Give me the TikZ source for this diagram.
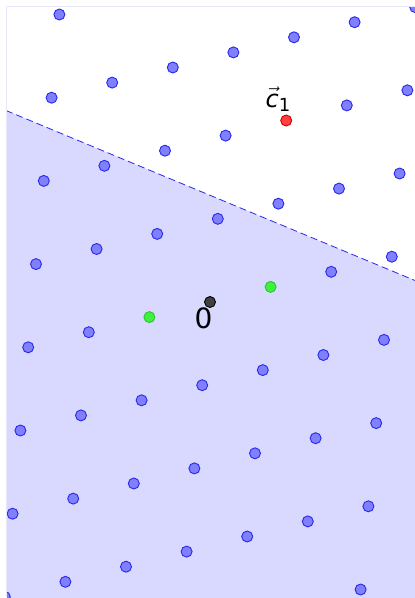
\documentclass[tikz,border=0pt]{standalone}
\usepackage{fontspec}
\setmainfont{DejaVu Sans}
\definecolor{ptfill}{RGB}{128,128,255}
\definecolor{ptdraw}{RGB}{40,40,235}
\definecolor{halfplane}{RGB}{217,217,255}
\definecolor{framecol}{RGB}{232,232,252}
\definecolor{redfill}{RGB}{255,64,64}
\definecolor{reddraw}{RGB}{210,0,0}
\definecolor{greenfill}{RGB}{64,240,64}
\definecolor{greendraw}{RGB}{40,200,40}
\tikzset{
  bluept/.style={circle,inner sep=0pt,minimum size=11pt,fill=ptfill,draw=ptdraw,line width=0.9pt},
  redpt/.style={bluept,fill=redfill,draw=reddraw},
  greenpt/.style={bluept,fill=greenfill,draw=greendraw},
  originpt/.style={bluept,fill=black!75,draw=black},
  bisector/.style={draw=ptdraw,line width=0.8pt,dash pattern=on 7pt off 4pt},
  lbl/.style={inner sep=0pt,text=black}
}
\begin{document}
\begin{tikzpicture}[x=1pt,y=-1pt]
\useasboundingbox (0,0) rectangle (415,598);
\fill[white] (0,0) rectangle (415,598);
\coordinate (L) at (6,110.5);
\coordinate (R) at (415,280.5);
\begin{scope}
\clip (6,6) rectangle (415,598);
\fill[halfplane] (L) -- (R) -- (415,598) -- (6,598) -- cycle;
\draw[bisector] (L) -- (R);
\foreach \i in {-6,...,6}{
  \foreach \j in {-5,...,5}{
    \pgfmathtruncatemacro\skipit{((\j==0) && (abs(\i)<=1)) || ((\i==1) && (\j==2))}
    \ifnum\skipit=0
      \node[bluept] (p\i\j) at ({210+\i*60.6+\j*7.8},{302-\i*15.1-\j*83.2}) {};
    \fi
  }
}
\node[originpt] (O) at (210,302) {};
\node[greenpt] (a) at (270.6,286.9) {};
\node[greenpt] (ma) at (149.4,317.1) {};
\node[redpt] (c) at (286.2,120.5) {};
\end{scope}
\draw[framecol,line width=0.8pt] (6,598) -- (6,6) -- (415,6);
\node[lbl,font=\fontsize{28}{30}\selectfont] (l0) at (203.5,318.5) {0};
\node[lbl,font=\fontsize{24}{26}\selectfont] (lc) at (278,99) {$\vec{\hbox{\itshape c}}$\raisebox{-0.3ex}{\fontsize{18}{20}\selectfont 1}};
\end{tikzpicture}
\end{document}
